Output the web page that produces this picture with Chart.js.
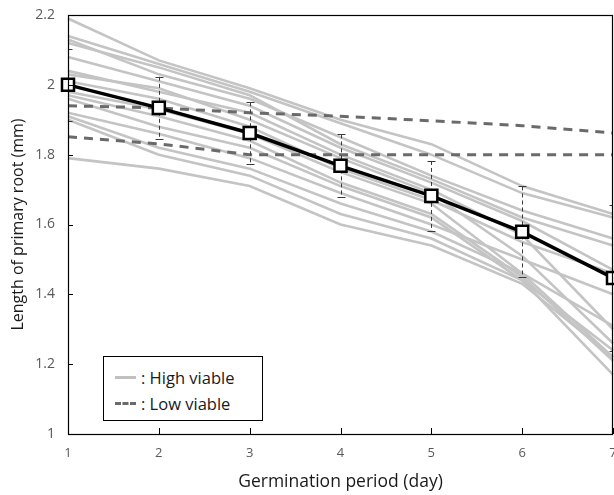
<!DOCTYPE html>
<html><head><meta charset="utf-8">
<script src="https://cdn.jsdelivr.net/npm/chart.js@4"></script>
<style>
html,body{margin:0;padding:0;background:#fff;}
#wrap{position:relative;width:614px;height:495px;overflow:hidden;}
#legend{position:absolute;left:103px;top:356px;width:158px;height:63px;border:1px solid #000;background:#fff;font-family:"Open Sans",sans-serif;font-size:16.5px;color:#1a1a1a;}
.row{position:absolute;left:11px;height:22px;display:flex;align-items:center;}
.sw{width:21px;height:0;margin-right:5px;}
</style>
</head><body>
<div id="wrap">
<canvas id="c" width="614" height="495"></canvas>
<div id="legend">
  <div class="row" style="top:9px"><div class="sw" style="border-top:3px solid #c0c0c0"></div><span>: High viable</span></div>
  <div class="row" style="top:35px"><div class="sw" style="border-top:3px dashed #6a6a6a"></div><span>: Low viable</span></div>
</div>
</div>
<script>
const days = ['1','2','3','4','5','6','7'];
const yTicks = [1, 1.2, 1.4, 1.6, 1.8, 2, 2.2];
const meanValues = [2.00, 1.934, 1.862, 1.768, 1.682, 1.579, 1.447];
const meanErrors = [0.103, 0.089, 0.088, 0.09, 0.10, 0.13, 0.21];
const lowViable1 = [1.94, 1.934, 1.92, 1.91, 1.897, 1.883, 1.862];
const lowViable2 = [1.851, 1.831, 1.80, 1.80, 1.80, 1.80, 1.80];
const high01 = [2.19, 2.07, 1.99, 1.90, 1.83, 1.71, 1.63];
const high02 = [2.14, 2.06, 1.98, 1.89, 1.80, 1.69, 1.62];
const high03 = [2.13, 2.03, 1.96, 1.85, 1.74, 1.64, 1.56];
const high04 = [2.12, 2.05, 1.97, 1.83, 1.73, 1.62, 1.54];
const high05 = [2.08, 2.01, 1.94, 1.82, 1.72, 1.61, 1.47];
const high06 = [2.04, 1.98, 1.92, 1.80, 1.70, 1.57, 1.30];
const high07 = [2.03, 1.99, 1.90, 1.79, 1.69, 1.51, 1.26];
const high08 = [2.01, 1.96, 1.88, 1.76, 1.67, 1.55, 1.46];
const high09 = [1.98, 1.93, 1.86, 1.75, 1.66, 1.46, 1.22];
const high10 = [1.97, 1.91, 1.84, 1.72, 1.63, 1.45, 1.21];
const high11 = [1.96, 1.88, 1.82, 1.71, 1.62, 1.44, 1.17];
const high12 = [1.92, 1.86, 1.79, 1.69, 1.60, 1.50, 1.40];
const high13 = [1.91, 1.82, 1.76, 1.66, 1.58, 1.46, 1.31];
const high14 = [1.90, 1.80, 1.74, 1.63, 1.56, 1.44, 1.24];
const high15 = [1.79, 1.76, 1.71, 1.60, 1.54, 1.43, 1.22];
const highSeries = [high01,high02,high03,high04,high05,high06,high07,high08,high09,high10,high11,high12,high13,high14,high15];

const FONT = '"Open Sans", sans-serif';

const datasets = [];
datasets.push({label:'Mean', data:meanValues, borderColor:'#000', borderWidth:3.5,
  pointStyle:'rect', pointRadius:8.5, pointHoverRadius:8.5, pointBackgroundColor:'#fff',
  pointBorderColor:'#000', pointBorderWidth:2.5, tension:0, order:0, clip:false});
[lowViable1, lowViable2].forEach((d,i)=>datasets.push({label:'Low viable '+(i+1), data:d,
  borderColor:'#6a6a6a', borderWidth:3, borderDash:[9,7], pointRadius:0, tension:0, order:1}));
highSeries.forEach((d,i)=>datasets.push({label:'High viable '+(i+1), data:d,
  borderColor:'#c4c4c4', borderWidth:2.6, pointRadius:0, tension:0, order:2}));

const errorBars = {
  id:'errorBars',
  beforeDatasetDraw(chart, args){
    if (args.index !== 0) return;
    const ctx = chart.ctx, xs = chart.scales.x, ys = chart.scales.y, a = chart.chartArea;
    ctx.save();
    ctx.beginPath(); ctx.rect(a.left, a.top, a.right-a.left, a.bottom-a.top); ctx.clip();
    ctx.strokeStyle = '#3a3a3a'; ctx.lineWidth = 1;
    meanValues.forEach((v,i)=>{
      const x = Math.round(xs.getPixelForValue(i))+0.5;
      const y1 = ys.getPixelForValue(v+meanErrors[i]);
      const y2 = ys.getPixelForValue(v-meanErrors[i]);
      ctx.setLineDash([4,3]);
      ctx.beginPath(); ctx.moveTo(x,y1); ctx.lineTo(x,y2); ctx.stroke();
      ctx.setLineDash([]);
      ctx.beginPath();
      ctx.moveTo(x-4,Math.round(y1)+0.5); ctx.lineTo(x+4,Math.round(y1)+0.5);
      ctx.moveTo(x-4,Math.round(y2)+0.5); ctx.lineTo(x+4,Math.round(y2)+0.5);
      ctx.stroke();
    });
    ctx.restore();
  }
};

const frame = {
  id:'frame',
  afterDraw(chart){
    const ctx = chart.ctx, a = chart.chartArea, xs = chart.scales.x, ys = chart.scales.y;
    ctx.save();
    ctx.strokeStyle = '#000'; ctx.lineWidth = 1.2;
    ctx.strokeRect(Math.round(a.left)+0.5, Math.round(a.top)+0.5, Math.round(a.right-a.left)-1, Math.round(a.bottom-a.top));
    ctx.lineWidth = 1;
    ctx.beginPath();
    days.forEach((d,i)=>{ const x = Math.round(xs.getPixelForValue(i))+0.5; ctx.moveTo(x,a.bottom); ctx.lineTo(x,a.bottom-6); });
    yTicks.forEach(v=>{ const y = Math.round(ys.getPixelForValue(v))+0.5; ctx.moveTo(a.left,y); ctx.lineTo(a.left+5,y); });
    ctx.stroke();
    ctx.restore();
  }
};

new Chart(document.getElementById('c'), {
  type:'line',
  data:{labels:days, datasets},
  options:{
    responsive:false, animation:false, events:[],
    layout:{autoPadding:false, padding:{top:15, right:1, left:0, bottom:0}},
    plugins:{legend:{display:false}, tooltip:{enabled:false}},
    scales:{
      x:{type:'category', offset:false,
        grid:{display:false}, border:{display:false},
        ticks:{padding:3, color:'#595959', font:{family:FONT, size:13}, maxRotation:0},
        title:{display:true, text:'Germination period (day)', color:'#1a1a1a', font:{family:FONT, size:17.5}, padding:{top:4, bottom:2}},
        afterFit(s){ s.height = 61; s.paddingRight = 0; s.paddingLeft = 0; }
      },
      y:{min:1, max:2.2,
        grid:{display:false}, border:{display:false},
        afterBuildTicks(s){ s.ticks = yTicks.map(v=>({value:v})); },
        ticks:{padding:5, color:'#595959', font:{family:FONT, size:14}, callback:v=>String(+Number(v).toFixed(1))},
        title:{display:true, text:'Length of primary root (mm)', color:'#1a1a1a', font:{family:FONT, size:16}, padding:{top:9,bottom:0}},
        afterFit(s){ s.width = 68; s.paddingTop = 0; s.paddingBottom = 0; }
      }
    }
  },
  plugins:[errorBars, frame]
});
</script>
</body></html>
